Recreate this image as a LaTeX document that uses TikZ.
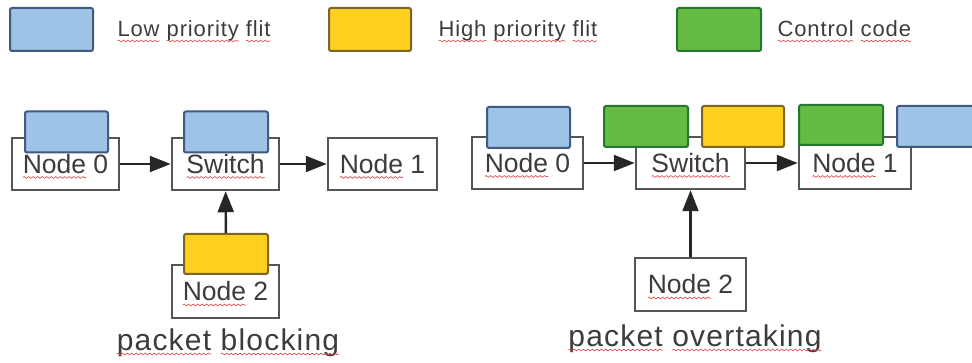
\documentclass[tikz,border=0pt]{standalone}
\usepackage{fontspec}
\setmainfont{Liberation Sans}
\newfontfamily\spacedfont[LetterSpace=4]{Liberation Sans}
\usepackage{tikz}
\usetikzlibrary{arrows.meta, positioning, decorations.pathmorphing}

\definecolor{lowfill}{RGB}{157,195,230}
\definecolor{lowdraw}{RGB}{65,90,125}
\definecolor{highfill}{RGB}{255,208,32}
\definecolor{highdraw}{RGB}{125,100,40}
\definecolor{ctrlfill}{RGB}{102,187,68}
\definecolor{ctrldraw}{RGB}{35,120,45}
\definecolor{boxgray}{RGB}{85,85,85}
\definecolor{textgray}{RGB}{60,60,60}
\definecolor{typored}{RGB}{215,70,70}

% red spell-check wave under a word
\newcommand\typo[1]{\tikz[baseline=(w.base)]{%
    \node[inner sep=0pt, outer sep=0pt, minimum size=0pt, draw=none, fill=none] (w) {#1};
    \draw[overlay, typored, line width=0.6pt, decorate,
          decoration={snake, amplitude=0.9pt, segment length=4.5pt}]
        ([yshift=-4pt]w.base west) -- ([yshift=-4pt]w.base east);}}

\begin{document}
\begin{tikzpicture}[
    x=1pt, y=-1pt,
    % Core styles
    host/.style={
        draw=boxgray, fill=white, line width=2.5pt, inner sep=0pt,
        minimum width=107pt, minimum height=52pt,
        text=textgray, font=\fontsize{26.5}{28}\selectfont
    },
    flit/.style={
        rounded corners=2pt, line width=2pt, inner sep=0pt,
        minimum width=83pt, minimum height=41pt
    },
    low/.style={flit, fill=lowfill, draw=lowdraw},
    high/.style={flit, fill=highfill, draw=highdraw},
    ctrl/.style={flit, fill=ctrlfill, draw=ctrldraw},
    link/.style={
        -{Triangle[length=21pt, width=16pt]}, line width=2.4pt, black!85
    },
    legend/.style={anchor=base west, text=textgray, font=\spacedfont\fontsize{22}{24}\selectfont},
    caption/.style={anchor=base, text=textgray, font=\spacedfont\fontsize{30}{32}\selectfont}
]

\useasboundingbox (0,0) rectangle (972,363);
\clip (0,0) rectangle (972,363);

% === LEGEND ===
\node[low, minimum height=43pt] (keylow) at (51.5,29.5) {};
\node[legend] (keylowtxt) at (114,37) {\typo{Low} \typo{priority} \typo{flit}};
\node[high, minimum width=82pt, minimum height=43pt] (keyhigh) at (370,29.5) {};
\node[legend] (keyhightxt) at (435,37) {\typo{High} \typo{priority} \typo{flit}};
\node[ctrl, minimum width=84pt, minimum height=43pt] (keyctrl) at (719,29.5) {};
\node[legend] (keyctrltxt) at (774,37) {\typo{Control} \typo{code}};

% === PACKET BLOCKING ===
\node[host] (n0a) at (65.5,164) {\typo{Node} 0};
\node[host] (swa) at (225.5,164) {\typo{Switch}};
\node[host, minimum width=109pt] (n1a) at (382.5,164) {\typo{Node} 1};
\node[host, minimum height=53pt] (n2a) at (225.5,291.5) {\typo{Node} 2};

\node[low] (fa0) at (66.5,132) {};
\node[low, minimum width=84pt] (fa1) at (226,132) {};
\node[high, minimum width=84pt, minimum height=40pt] (fa2) at (226,254) {};

\draw[link] (n0a) -- (swa);
\draw[link] (swa) -- (n1a);
\draw[link] (fa2) -- (swa);

\node[caption] (capa) at (228,350) {\typo{packet} \typo{blocking}};

% === PACKET OVERTAKING ===
\node[host, minimum width=111pt] (n0b) at (527.5,163) {\typo{Node} 0};
\node[host, minimum width=109pt] (swb) at (690.5,163) {\typo{Switch}};
\node[host, minimum width=112pt] (n1b) at (855,163) {\typo{Node} 1};
\node[host, minimum width=111pt, minimum height=53pt] (n2b) at (690.5,284.5) {\typo{Node} 2};

\node[low] (fb0) at (528.5,127.5) {};
\node[ctrl, minimum width=84pt] (fb1) at (646,126.5) {};
\node[high, minimum width=82pt] (fb2) at (743,126.5) {};
\node[ctrl, minimum width=84pt, minimum height=40pt] (fb3) at (841,125) {};
\node[low] (fb4) at (938.5,126.5) {};

\draw[link] (n0b) -- (swb);
\draw[link] (swb) -- (n1b);
\draw[link] (n2b) -- (swb);

\node[caption] (capb) at (695,346) {\typo{packet} \typo{overtaking}};

\end{tikzpicture}
\end{document}
